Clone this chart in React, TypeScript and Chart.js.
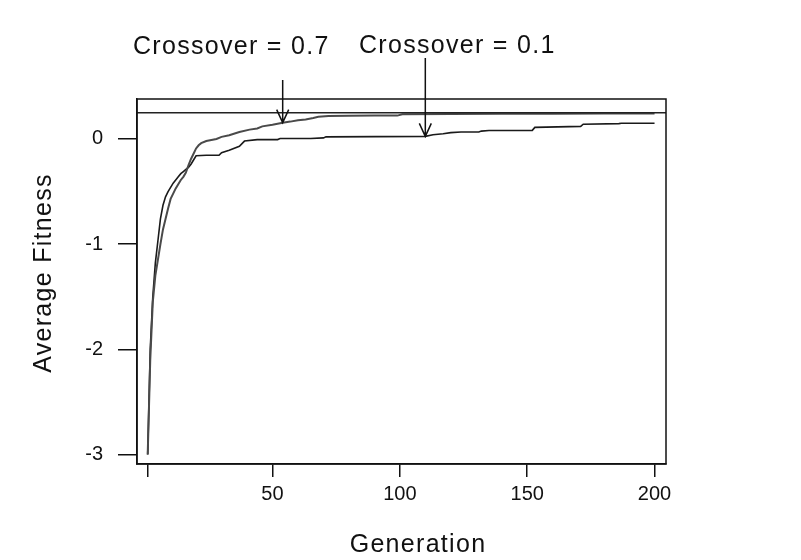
import { useEffect, useRef } from 'react';
import { Chart, registerables } from 'chart.js';

Chart.register(...registerables);

// Crossover = 0.7 (upper curve)
const generationsHigh = [
  1, 2, 3, 4, 5, 6, 7, 8, 9, 10, 11, 12, 13, 14, 15, 16, 17, 18, 19, 20, 21, 22, 24, 26, 28,
  30, 33, 37, 41, 44, 46, 50, 54, 57, 60, 63, 66, 68, 72, 80, 90, 99, 101, 120, 140, 160, 180, 200,
];
const fitnessHigh = [
  -3, -2.1, -1.55, -1.3, -1.15, -1.0, -0.86, -0.76, -0.66, -0.57, -0.52, -0.47, -0.43, -0.39, -0.36,
  -0.32, -0.25, -0.19, -0.14, -0.09, -0.06, -0.04, -0.02, -0.01, 0, 0.02, 0.035, 0.066, 0.089, 0.1,
  0.12, 0.135, 0.155, 0.165, 0.178, 0.186, 0.2, 0.212, 0.218, 0.22, 0.222, 0.222, 0.235, 0.238, 0.24,
  0.24, 0.242, 0.242,
];

// Crossover = 0.1 (lower curve)
const generationsLow = [
  1, 2, 3, 4, 5, 6, 7, 8, 9, 10, 11, 12, 13, 14, 15, 16, 17, 18, 19, 20, 24, 29, 30, 33, 37, 39,
  44, 52, 53, 65, 70, 71, 110, 113, 117, 120, 124, 131, 132, 135, 152, 153, 171, 172, 186, 187, 200,
];
const fitnessLow = [
  -3, -2.0, -1.5, -1.18, -0.97, -0.76, -0.63, -0.55, -0.5, -0.46, -0.42, -0.39, -0.36, -0.33, -0.31,
  -0.29, -0.27, -0.24, -0.2, -0.16, -0.155, -0.155, -0.13, -0.107, -0.07, -0.02, -0.006, -0.006,
  0.004, 0.004, 0.01, 0.02, 0.025, 0.04, 0.05, 0.06, 0.066, 0.066, 0.075, 0.08, 0.082, 0.11, 0.12,
  0.14, 0.146, 0.15, 0.15,
];

// horizontal reference line (best possible fitness)
const optimumFitness = 0.25;

const generationRange = [-3.2, 204.5];
const fitnessRange = [-3.09, 0.38];

const xTickValues = [1, 50, 100, 150, 200];
const xTickLabels = ['', '50', '100', '150', '200'];
const yTickValues = [-3, -2, -1, 0];
const yTickLabels = ['-3', '-2', '-1', '0'];

const annotationLabels = ['Crossover = 0.7', 'Crossover = 0.1'];
const annotationGenerations = [54, 110];
const annotationFitness = [0.155, 0.025];

const xTitle = 'Generation';
const yTitle = 'Average Fitness';

const FONT = '"Liberation Sans", Arial, Helvetica, sans-serif';
const INK = '#111';

// text + arrows + closing the box on top and right
const decorPlugin = {
  id: 'decor',
  afterDatasetsDraw(chart: any) {
    const { ctx, chartArea: a } = chart;
    ctx.save();
    ctx.strokeStyle = INK;
    ctx.lineWidth = 1.5;
    ctx.strokeRect(a.left, a.top, a.right - a.left, a.bottom - a.top);
    ctx.restore();
  },
  afterDraw(chart: any) {
    const { ctx, scales } = chart;
    const textX = [133, 359];
    const textY = [53.5, 53];
    const arrowTop = [80, 58];

    ctx.save();
    ctx.fillStyle = INK;
    ctx.strokeStyle = INK;
    ctx.font = `25px ${FONT}`;
    (ctx as any).letterSpacing = '1.3px';
    ctx.textBaseline = 'alphabetic';
    ctx.textAlign = 'left';

    annotationLabels.forEach((label, i) => {
      ctx.fillText(label, textX[i], textY[i]);
      const px = scales.x.getPixelForValue(annotationGenerations[i]);
      const py = scales.y.getPixelForValue(annotationFitness[i]);
      ctx.lineWidth = 1.5;
      ctx.beginPath();
      ctx.moveTo(px, arrowTop[i]);
      ctx.lineTo(px, py);
      ctx.moveTo(px - 6, py - 13);
      ctx.lineTo(px, py);
      ctx.lineTo(px + 6, py - 13);
      ctx.stroke();
    });

    // axis titles
    ctx.textAlign = 'center';
    ctx.fillText(xTitle, 418, 552);

    ctx.translate(44, 273);
    ctx.rotate(-Math.PI / 2);
    ctx.textBaseline = 'middle';
    ctx.fillText(yTitle, 0, 0);
    ctx.restore();
  },
};

export default function App() {
  const chartRef = useRef<HTMLCanvasElement>(null);
  const chartInstance = useRef<Chart | null>(null);

  useEffect(() => {
    document.body.style.margin = '0';
    if (!chartRef.current) return;

    if (chartInstance.current) {
      chartInstance.current.destroy();
    }

    const ctx = chartRef.current.getContext('2d');
    if (!ctx) return;

    chartInstance.current = new Chart(ctx, {
      type: 'line',
      data: {
        datasets: [
          {
            label: 'Optimum',
            data: [
              { x: generationRange[0], y: optimumFitness },
              { x: generationRange[1], y: optimumFitness },
            ],
            borderColor: '#222',
            borderWidth: 1.5,
          },
          {
            label: 'Crossover = 0.7',
            data: generationsHigh.map((g, i) => ({ x: g, y: fitnessHigh[i] })),
            borderColor: '#4a4a4a',
            borderWidth: 2,
          },
          {
            label: 'Crossover = 0.1',
            data: generationsLow.map((g, i) => ({ x: g, y: fitnessLow[i] })),
            borderColor: '#1a1a1a',
            borderWidth: 1.6,
          },
        ],
      },
      options: {
        animation: false,
        responsive: true,
        maintainAspectRatio: false,
        layout: { padding: { left: 0, top: 99, right: 135, bottom: 0 } },
        elements: {
          point: { radius: 0 },
          line: { tension: 0 },
        },
        plugins: {
          legend: { display: false },
          tooltip: { enabled: false },
        },
        scales: {
          x: {
            type: 'linear',
            min: generationRange[0],
            max: generationRange[1],
            afterBuildTicks: (scale: any) => {
              scale.ticks = xTickValues.map((v) => ({ value: v }));
            },
            afterFit: (scale: any) => {
              scale.height = 96;
            },
            ticks: {
              autoSkip: false,
              maxRotation: 0,
              padding: 5,
              color: INK,
              font: { family: FONT, size: 20 },
              callback: (value: any) => xTickLabels[xTickValues.indexOf(Number(value))] ?? '',
            },
            grid: { drawOnChartArea: false, tickLength: 13, color: INK, lineWidth: 1.5 },
            border: { color: INK, width: 1.5 },
          },
          y: {
            type: 'linear',
            min: fitnessRange[0],
            max: fitnessRange[1],
            afterBuildTicks: (scale: any) => {
              scale.ticks = yTickValues.map((v) => ({ value: v }));
            },
            afterFit: (scale: any) => {
              scale.width = 137;
            },
            ticks: {
              autoSkip: false,
              padding: 15,
              color: INK,
              font: { family: FONT, size: 20 },
              callback: (value: any) => yTickLabels[yTickValues.indexOf(Number(value))] ?? '',
            },
            grid: { drawOnChartArea: false, tickLength: 19, color: INK, lineWidth: 1.5 },
            border: { color: INK, width: 1.5 },
          },
        },
      },
      plugins: [decorPlugin],
    });

    return () => {
      if (chartInstance.current) {
        chartInstance.current.destroy();
        chartInstance.current = null;
      }
    };
  }, []);

  return (
    <div style={{ position: 'relative', width: 801, height: 560, background: '#fff' }}>
      <canvas ref={chartRef} />
    </div>
  );
}
